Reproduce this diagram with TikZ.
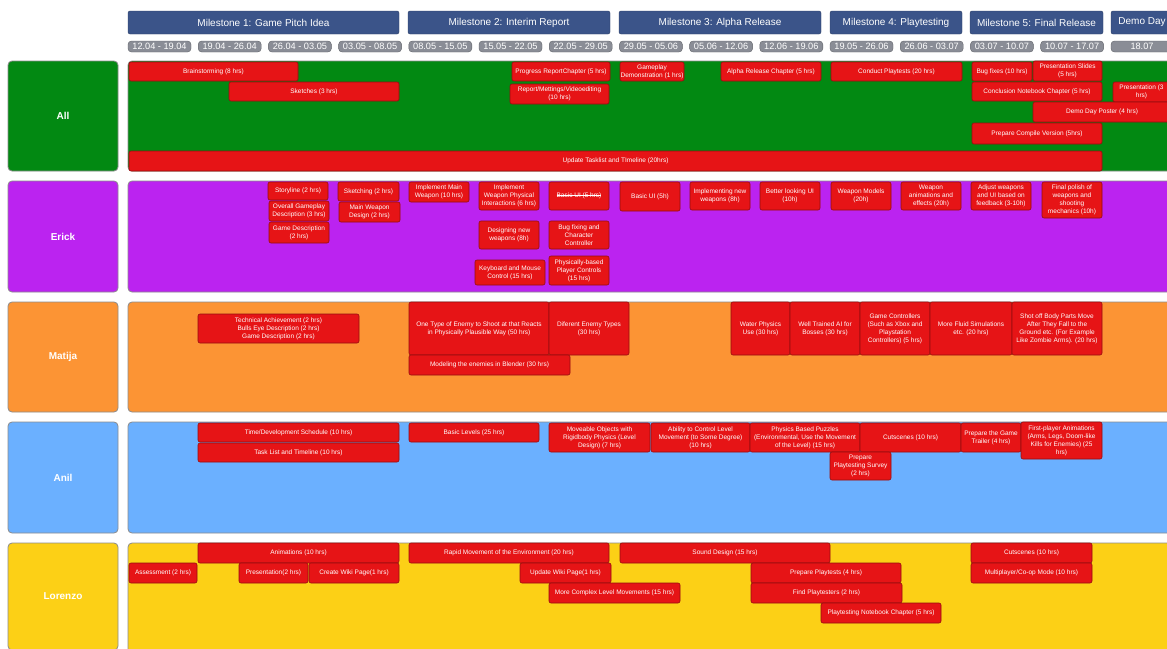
\documentclass[tikz,border=0pt]{standalone}
\usepackage{fontspec}
\setmainfont{Liberation Sans}
\usepackage{tikz}
\usepackage{xcolor}
\usetikzlibrary{positioning}

\definecolor{laneall}{HTML}{028912}
\definecolor{laneerick}{HTML}{BB23F0}
\definecolor{lanematija}{HTML}{FC9434}
\definecolor{laneanil}{HTML}{6BB0FF}
\definecolor{lanelorenzo}{HTML}{FCD016}
\definecolor{taskred}{HTML}{E61416}
\definecolor{msblue}{HTML}{3B5489}
\definecolor{dategray}{HTML}{8A8D96}

% box from (x0,y0) to (x1,y1), pixel coordinates, y going down
\newcommand{\ganttbox}[7]{%
  \pgfmathsetmacro{\gw}{#5-#3}%
  \pgfmathsetmacro{\gh}{#6-#4}%
  \node[#1, minimum width=\gw pt, minimum height=\gh pt] (#2) at ({(#3+#5)/2},{(#4+#6)/2}) {#7};}

% crossed out text
\newsavebox{\strikebox}
\newcommand{\crossout}[1]{\sbox{\strikebox}{#1}\rlap{\usebox{\strikebox}}\rule[0.3em]{\wd\strikebox}{0.5pt}}

\begin{document}
\begin{tikzpicture}[x=1pt, y=-1pt,
    taskbar/.style={draw=taskred!65!black, fill=taskred, rounded corners=2pt, inner sep=0pt,
        line width=0.6pt, align=center, text=white, font=\fontsize{6.5}{8}\selectfont},
    lane/.style={draw=black!45, rounded corners=4pt, inner sep=0pt, line width=0.8pt},
    who/.style={lane, text=white, font=\bfseries\fontsize{10}{12}\selectfont},
    milestone/.style={draw=msblue!75!black, fill=msblue, rounded corners=2pt, inner sep=0pt,
        text=white, font=\fontsize{10}{12}\selectfont},
    datebox/.style={draw=dategray!70!black, fill=dategray, rounded corners=3.5pt, inner sep=0pt,
        text=white, font=\fontsize{9.2}{10}\selectfont}]
    \useasboundingbox (0,0) rectangle (1167,648);
    \fill[white] (0,0) rectangle (1167,648);
    \clip (0,0) rectangle (1167,648);

    % milestones
    \ganttbox{milestone}{m1}{128}{11}{399}{34}{Milestone 1: Game Pitch Idea}
    \ganttbox{milestone}{m2}{408}{11}{610}{34}{Milestone 2: Interim Report}
    \ganttbox{milestone}{m3}{619}{11}{821}{34}{Milestone 3: Alpha Release}
    \ganttbox{milestone}{m4}{830}{11}{962}{34}{Milestone 4: Playtesting}
    \ganttbox{milestone}{m5}{970}{11}{1103}{34}{Milestone 5: Final Release}
    \ganttbox{milestone}{mdemo}{1111}{11}{1173}{34}{Demo Day}

    % weeks
    \foreach \d [count=\i from 0] in {12.04 - 19.04, 19.04 - 26.04, 26.04 - 03.05, 03.05 - 08.05,
        08.05 - 15.05, 15.05 - 22.05, 22.05 - 29.05, 29.05 - 05.06, 05.06 - 12.06, 12.06 - 19.06,
        19.05 - 26.06, 26.06 - 03.07, 03.07 - 10.07, 10.07 - 17.07} {
        \pgfmathsetmacro{\xa}{128+70.2*\i}
        \pgfmathsetmacro{\xb}{\xa+63}
        \ganttbox{datebox}{d\i}{\xa}{41}{\xb}{52}{\d}
    }
    \ganttbox{datebox}{d14}{1111}{41}{1173}{52}{18.07}

    % lanes
    \ganttbox{who, fill=laneall}{who-all}{8}{61}{118}{171}{All}
    \ganttbox{lane, fill=laneall}{lane-all}{128}{61}{1190}{171}{}
    \ganttbox{who, fill=laneerick}{who-erick}{8}{181}{118}{292}{Erick}
    \ganttbox{lane, fill=laneerick}{lane-erick}{128}{181}{1190}{292}{}
    \ganttbox{who, fill=lanematija}{who-matija}{8}{302}{118}{412}{Matija}
    \ganttbox{lane, fill=lanematija}{lane-matija}{128}{302}{1190}{412}{}
    \ganttbox{who, fill=laneanil}{who-anil}{8}{422}{118}{533}{Anil}
    \ganttbox{lane, fill=laneanil}{lane-anil}{128}{422}{1190}{533}{}
    \ganttbox{who, fill=lanelorenzo}{who-lorenzo}{8}{543}{118}{650}{Lorenzo}
    \ganttbox{lane, fill=lanelorenzo}{lane-lorenzo}{128}{543}{1190}{670}{}

    % All
    \ganttbox{taskbar}{all-brain}{129}{62}{298}{81}{Brainstorming (8 hrs)}
    \ganttbox{taskbar}{all-sketch}{229}{82}{399}{101}{Sketches (3 hrs)}
    \ganttbox{taskbar}{all-progress}{512}{62}{610}{81}{Progress ReportChapter (5 hrs)}
    \ganttbox{taskbar}{all-report}{510}{84}{609}{104}{Report/Mettings/Videoediting\\(10 hrs)}
    \ganttbox{taskbar}{all-demo}{620}{62}{684}{81}{Gameplay\\Demonstration (1 hrs)}
    \ganttbox{taskbar}{all-alpha}{721}{62}{821}{81}{Alpha Release Chapter (5 hrs)}
    \ganttbox{taskbar}{all-play}{831}{62}{962}{81}{Conduct Playtests (20 hrs)}
    \ganttbox{taskbar}{all-bugs}{972}{62}{1032}{81}{Bug fixes (10 hrs)}
    \ganttbox{taskbar}{all-slides}{1033}{61}{1102}{81}{Presentation Slides\\(5 hrs)}
    \ganttbox{taskbar}{all-concl}{972}{82}{1102}{101}{Conclusion Notebook Chapter (5 hrs)}
    \ganttbox{taskbar}{all-pres}{1113}{82}{1170}{102}{Presentation (3\\hrs)}
    \ganttbox{taskbar}{all-poster}{1033}{102}{1171}{122}{Demo Day Poster (4 hrs)}
    \ganttbox{taskbar}{all-compile}{972}{123}{1102}{144}{Prepare Compile Version (5hrs)}
    \ganttbox{taskbar}{all-update}{129}{151}{1102}{171}{Update Tasklist and TImeline (20hrs)}

    % Erick
    \ganttbox{taskbar}{er-story}{268}{182}{328}{200}{Storyline (2 hrs)}
    \ganttbox{taskbar}{er-overall}{269}{201}{329}{221}{Overall Gameplay\\Description (3 hrs)}
    \ganttbox{taskbar}{er-gamedesc}{269}{222}{329}{243}{Game Description\\(2 hrs)}
    \ganttbox{taskbar}{er-sketch}{338}{182}{399}{201}{Sketching (2 hrs)}
    \ganttbox{taskbar}{er-weapon}{339}{202}{400}{222}{Main Weapon\\Design (2 hrs)}
    \ganttbox{taskbar}{er-implmain}{409}{182}{469}{202}{Implement Main\\Weapon (10 hrs)}
    \ganttbox{taskbar}{er-physical}{479}{182}{539}{210}{Implement\\Weapon Physical\\Interactions (6 hrs)}
    \ganttbox{taskbar}{er-oldui}{549}{182}{609}{210}{\crossout{Basic UI (5 hrs)}}
    \ganttbox{taskbar}{er-design}{479}{221}{539}{249}{Designing new\\weapons (8h)}
    \ganttbox{taskbar}{er-bugfix}{549}{221}{609}{249}{Bug fixing and\\Character\\Controller}
    \ganttbox{taskbar}{er-keys}{475}{260}{545}{285}{Keyboard and Mouse\\Control (15 hrs)}
    \ganttbox{taskbar}{er-controls}{549}{256}{609}{285}{Physically-based\\Player Controls\\(15 hrs)}
    \ganttbox{taskbar}{er-ui}{620}{182}{680}{211}{Basic UI (5h)}
    \ganttbox{taskbar}{er-newweap}{690}{182}{750}{210}{Implementing new\\weapons (8h)}
    \ganttbox{taskbar}{er-betterui}{760}{182}{820}{210}{Better looking UI\\(10h)}
    \ganttbox{taskbar}{er-models}{831}{182}{891}{210}{Weapon Models\\(20h)}
    \ganttbox{taskbar}{er-anims}{901}{182}{961}{210}{Weapon\\animations and\\effects (20h)}
    \ganttbox{taskbar}{er-adjust}{971}{182}{1031}{210}{Adjust weapons\\and UI based on\\feedback (3-10h)}
    \ganttbox{taskbar}{er-polish}{1042}{182}{1102}{218}{Final polish of\\weapons and\\shooting\\mechanics (10h)}

    % Matija
    \ganttbox{taskbar}{ma-tech}{198}{314}{359}{343}{Technical Achievement (2 hrs)\\Bulls Eye Description (2 hrs)\\Game Description (2 hrs)}
    \ganttbox{taskbar}{ma-enemy}{409}{302}{549}{355}{One Type of Enemy to Shoot at that Reacts\\in Physically Plausible Way (50 hrs)}
    \ganttbox{taskbar}{ma-types}{549}{302}{629}{355}{Diferent Enemy Types\\(30 hrs)}
    \ganttbox{taskbar}{ma-blender}{409}{355}{570}{375}{Modeling the enemies in Blender (30 hrs)}
    \ganttbox{taskbar}{ma-water}{731}{302}{790}{355}{Water Physics\\Use (30 hrs)}
    \ganttbox{taskbar}{ma-ai}{790}{302}{860}{355}{Well Trained AI for\\Bosses (30 hrs)}
    \ganttbox{taskbar}{ma-pads}{860}{302}{930}{355}{Game Controllers\\(Such as Xbox and\\Playstation\\Controllers) (5 hrs)}
    \ganttbox{taskbar}{ma-fluid}{930}{302}{1012}{355}{More Fluid Simulations\\etc. (20 hrs)}
    \ganttbox{taskbar}{ma-body}{1012}{302}{1102}{355}{Shot off Body Parts Move\\After They Fall to the\\Ground etc. (For Example\\Like Zombie Arms). (20 hrs)}

    % Anil
    \ganttbox{taskbar}{an-sched}{198}{423}{399}{442}{Time/Development Schedule (10 hrs)}
    \ganttbox{taskbar}{an-tasks}{198}{443}{399}{462}{Task List and Timeline (10 hrs)}
    \ganttbox{taskbar}{an-levels}{409}{423}{539}{442}{Basic Levels (25 hrs)}
    \ganttbox{taskbar}{an-objects}{549}{423}{650}{452}{Moveable Objects with\\Rigidbody Physics (Level\\Design) (7 hrs)}
    \ganttbox{taskbar}{an-control}{651}{423}{750}{452}{Ability to Control Level\\Movement (to Some Degree)\\(10 hrs)}
    \ganttbox{taskbar}{an-puzzles}{750}{423}{860}{452}{Physics Based Puzzles\\(Environmental, Use the Movement\\of the Level) (15 hrs)}
    \ganttbox{taskbar}{an-cuts}{860}{423}{961}{452}{Cutscenes (10 hrs)}
    \ganttbox{taskbar}{an-trailer}{961}{423}{1021}{452}{Prepare the Game\\Trailer (4 hrs)}
    \ganttbox{taskbar}{an-fpanim}{1021}{422}{1102}{459}{First-player Animations\\(Arms, Legs, Doom-like\\Kills for Enemies) (25\\hrs)}
    \ganttbox{taskbar}{an-survey}{830}{452}{891}{480}{Prepare\\Playtesting Survey\\(2 hrs)}

    % Lorenzo
    \ganttbox{taskbar}{lo-anims}{198}{543}{399}{563}{Animations (10 hrs)}
    \ganttbox{taskbar}{lo-assess}{129}{563}{197}{583}{Assessment (2 hrs)}
    \ganttbox{taskbar}{lo-pres}{239}{563}{308}{583}{Presentation(2 hrs)}
    \ganttbox{taskbar}{lo-wiki}{309}{563}{399}{583}{Create Wiki Page(1 hrs)}
    \ganttbox{taskbar}{lo-rapid}{409}{543}{609}{563}{Rapid Movement of the Environment (20 hrs)}
    \ganttbox{taskbar}{lo-upwiki}{520}{563}{611}{583}{Update Wiki Page(1 hrs)}
    \ganttbox{taskbar}{lo-complex}{549}{583}{680}{603}{More Complex Level Movements (15 hrs)}
    \ganttbox{taskbar}{lo-sound}{620}{543}{830}{563}{Sound Design (15 hrs)}
    \ganttbox{taskbar}{lo-prep}{751}{563}{901}{583}{Prepare Playtests (4 hrs)}
    \ganttbox{taskbar}{lo-find}{751}{583}{902}{603}{Find Playtesters (2 hrs)}
    \ganttbox{taskbar}{lo-chapter}{821}{603}{941}{623}{Playtesting Notebook Chapter (5 hrs)}
    \ganttbox{taskbar}{lo-cuts}{971}{543}{1092}{563}{Cutscenes (10 hrs)}
    \ganttbox{taskbar}{lo-coop}{971}{563}{1092}{583}{Multiplayer/Co-op Mode (10 hrs)}
\end{tikzpicture}
\end{document}
